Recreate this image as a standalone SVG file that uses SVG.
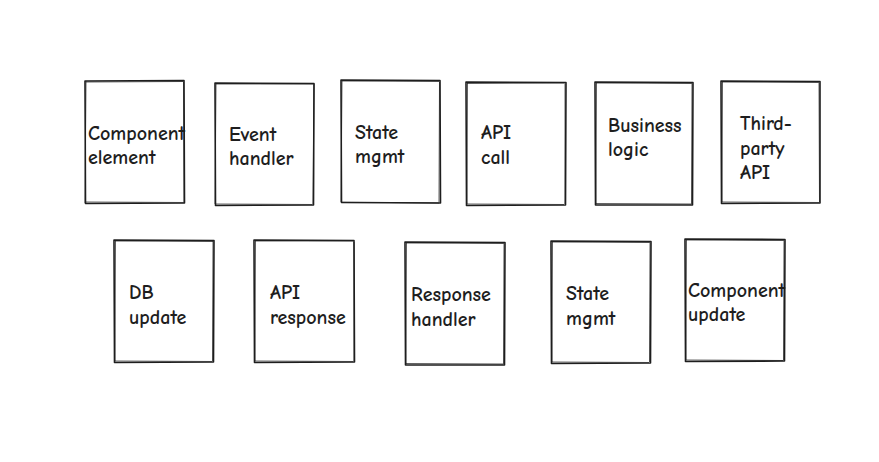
<svg xmlns="http://www.w3.org/2000/svg" width="879" height="462" viewBox="0 0 879 462">
<style>
.b{fill:#fff;stroke:#1e1e1e;stroke-width:1.6;stroke-linejoin:round}
.s{fill:none;stroke:#1e1e1e;stroke-width:0.9;opacity:0.8}
text{font-family:"Comic Neue","Liberation Sans","DejaVu Sans",sans-serif;font-size:20px;font-weight:bold;fill:#1e1e1e}
</style>
<rect width="879" height="462" fill="#fff"/>
<g id="connectors"/>
<g id="n1"><path class="b" d="M85 81 L184 80.5 L184.5 203 L85.5 203.5 Z"/><path class="s" d="M86 82 L183 81.5 M183.5 82 L184 202 M184 202.5 L86 202 M85 203 L86 81"/><text x="88" y="140">Component</text><text x="88" y="164">element</text></g>
<g id="n2"><path class="b" d="M215 83 L314 83.5 L313.5 205 L215.5 205.5 Z"/><path class="s" d="M216 84 L313 84 M314 84 L313 204 M312.5 204.5 L216 204 M215 204 L216 84"/><text x="229" y="141">Event</text><text x="229" y="165">handler</text></g>
<g id="n3"><path class="b" d="M341 80 L440 80.5 L440.5 203 L341.5 202.5 Z"/><path class="s" d="M342 81 L439 81.5 M439.5 82 L439 202 M439 203 L342 202 M341 202 L342 81"/><text x="355" y="139">State</text><text x="355" y="163">mgmt</text></g>
<g id="n4"><path class="b" d="M466 82 L566 82.5 L565.5 205 L466.5 205.5 Z"/><path class="s" d="M467 83.5 L565 83 M565 84 L565 204 M564 204.5 L467 204 M467 204 L467.5 83"/><text x="481" y="139">API</text><text x="481" y="164">call</text></g>
<g id="n5"><path class="b" d="M595 82 L693 82.5 L692.5 205 L595.5 205 Z"/><path class="s" d="M596 83 L692 83.5 M692 84 L691.5 204 M691 204 L596 203.5 M596 204 L596.5 83"/><text x="608" y="132">Business</text><text x="608" y="156">logic</text></g>
<g id="n6"><path class="b" d="M721 81 L820 81.5 L820 203 L721.5 203.5 Z"/><path class="s" d="M722 82 L819 82.5 M819 83 L819.5 202 M819 202.5 L722 202 M722 202 L722.5 82"/><text x="740" y="130">Third-</text><text x="740" y="155">party</text><text x="740" y="179">API</text></g>
<g id="n7"><path class="b" d="M114 240 L214 240.5 L213.5 362 L114.5 362.5 Z"/><path class="s" d="M115 241 L213 241.5 M213 241 L212.5 361 M212.5 361.5 L115 361 M115 361 L115.5 241"/><text x="129" y="299">DB</text><text x="129" y="324">update</text></g>
<g id="n8"><path class="b" d="M254 240 L354 240.5 L354.5 362 L254.5 362.5 Z"/><path class="s" d="M255 241 L353 241 M354 242 L354 361 M353.5 361.5 L255 361 M255 361 L255.5 241"/><text x="270" y="299">API</text><text x="270" y="324">response</text></g>
<g id="n9"><path class="b" d="M405 242 L505 242.5 L504.5 365 L405.5 365 Z"/><path class="s" d="M406 243 L504 243.5 M504 244 L503.5 364 M503 364 L406 363.5 M406 364 L406.5 243"/><text x="411" y="301">Response</text><text x="411" y="326">handler</text></g>
<g id="n10"><path class="b" d="M551 241 L651 241.5 L650.5 363 L551.5 363.5 Z"/><path class="s" d="M552 242 L650 242.5 M650 243 L649.5 362 M649 362.5 L552 362 M552 362 L552.5 242"/><text x="566" y="300">State</text><text x="566" y="325">mgmt</text></g>
<g id="n11"><path class="b" d="M685 239 L785 239.5 L784.5 361 L685.5 361.5 Z"/><path class="s" d="M686 240 L784 240.5 M784 241 L783.5 360 M783 360.5 L686 360 M686 360 L686.5 240"/><text x="688" y="297">Component</text><text x="688" y="321">update</text></g>
</svg>
